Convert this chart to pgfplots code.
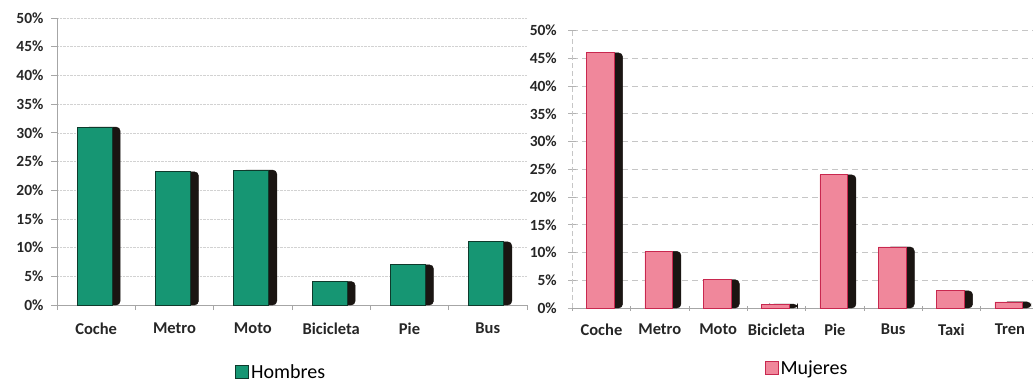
\documentclass[border=0pt]{standalone}
\usepackage{pgfplots}
\pgfplotsset{compat=1.18}
\usepackage{fontspec}
\setmainfont{Carlito}
\definecolor{hgreen}{HTML}{169673}
\definecolor{hgreenline}{HTML}{0E3A2C}
\definecolor{mpink}{HTML}{F0879B}
\definecolor{mpinkline}{HTML}{C8284F}
\definecolor{shadowc}{HTML}{1A1512}
\begin{document}
\begin{tikzpicture}
\pgfplotsset{
  common/.style={
    scale only axis,
    axis lines=left,
    axis line style={-, gray!70, line width=0.8pt},
    ymin=0, ymax=50,
    ytick={0,5,...,50},
    yticklabels={0\%,5\%,10\%,15\%,20\%,25\%,30\%,35\%,40\%,45\%,50\%},
    yticklabel style={font=\fontsize{15.5}{15.5}\selectfont\bfseries, text=black!85},
    xticklabel style={font=\fontsize{16.5}{16.5}\selectfont\bfseries, text=black!85},
    major x tick style={draw=none},
    minor x tick style={gray!70, line width=0.8pt},
    minor tick length=5pt,
    ymajorgrids,
    legend style={draw=none, fill=none, font=\fontsize{20}{20}\selectfont, legend cell align=left, inner sep=0pt},
    legend image code/.code={\draw[#1, line width=0.8pt] (0pt,-6.5pt) rectangle (13pt,6.5pt);},
  }
}
% Left: Hombres
\begin{axis}[common,
  at={(57pt,78pt)}, anchor=south west,
  width=470pt, height=287pt,
  xmin=-0.5, xmax=5.5,
  xtick={0,1,2,3,4,5},
  xticklabels={Coche,Metro,Moto,Bicicleta,Pie,Bus},
  minor xtick={-0.5,0.5,1.5,2.5,3.5,4.5,5.5},
  y axis line style={gray!70},
  ytick style={gray!70, line width=0.8pt},
  major tick length=6pt,
  tick align=outside,
  yticklabel style={xshift=-4pt},
  xticklabel style={yshift=-8pt},
  grid style={gray!35, densely dotted, line width=0.6pt},
  legend style={at={(0.477,-0.234)}, anchor=center},
]
\addplot[ybar, bar width=35pt, bar shift=6.5pt, fill=shadowc, draw=shadowc, rounded corners=4pt, forget plot]
  coordinates {(0,31.0) (1,23.2) (2,23.5) (3,4.1) (4,7.0) (5,11.0)};
\addplot[ybar, bar width=35pt, bar shift=-1.5pt, fill=hgreen, draw=hgreenline, line width=0.8pt]
  coordinates {(0,31.0) (1,23.2) (2,23.5) (3,4.1) (4,7.0) (5,11.0)};
\addlegendentry{Hombres}
\end{axis}
% Right: Mujeres
\begin{axis}[common,
  at={(572.3pt,75pt)}, anchor=south west,
  width=466.7pt, height=277.3pt,
  xmin=-0.5, xmax=7.5,
  xtick={0,1,2,3,4,5,6,7},
  xticklabels={Coche,Metro,Moto,Bicicleta,Pie,Bus,Taxi,Tren},
  minor xtick={-0.5,0.5,1.5,2.5,3.5,4.5,5.5,6.5,7.5},
  y axis line style={gray!45, dash pattern=on 5pt off 3pt},
  ytick style={gray!60, line width=0.8pt},
  major tick length=8pt,
  tick align=center,
  yticklabel style={xshift=-8pt},
  xticklabel style={yshift=-8pt},
  grid style={gray!45, dash pattern=on 6pt off 4pt, line width=0.8pt},
  legend style={at={(0.503,-0.216)}, anchor=center},
]
\addplot[ybar, bar width=27.7pt, bar shift=7.3pt, fill=shadowc, draw=shadowc, rounded corners=4pt, forget plot]
  coordinates {(0,46.0) (1,10.2) (2,5.1) (3,0.7) (4,24.0) (5,11.0) (6,3.1) (7,1.1)};
\addplot[ybar, bar width=27.7pt, bar shift=-1pt, fill=mpink, draw=mpinkline, line width=0.8pt]
  coordinates {(0,46.0) (1,10.2) (2,5.1) (3,0.7) (4,24.0) (5,11.0) (6,3.1) (7,1.1)};
\addlegendentry{Mujeres}
\end{axis}
\pgfresetboundingbox
\path[use as bounding box] (0pt,0pt) rectangle (1033pt,383pt);
\end{tikzpicture}
\end{document}
